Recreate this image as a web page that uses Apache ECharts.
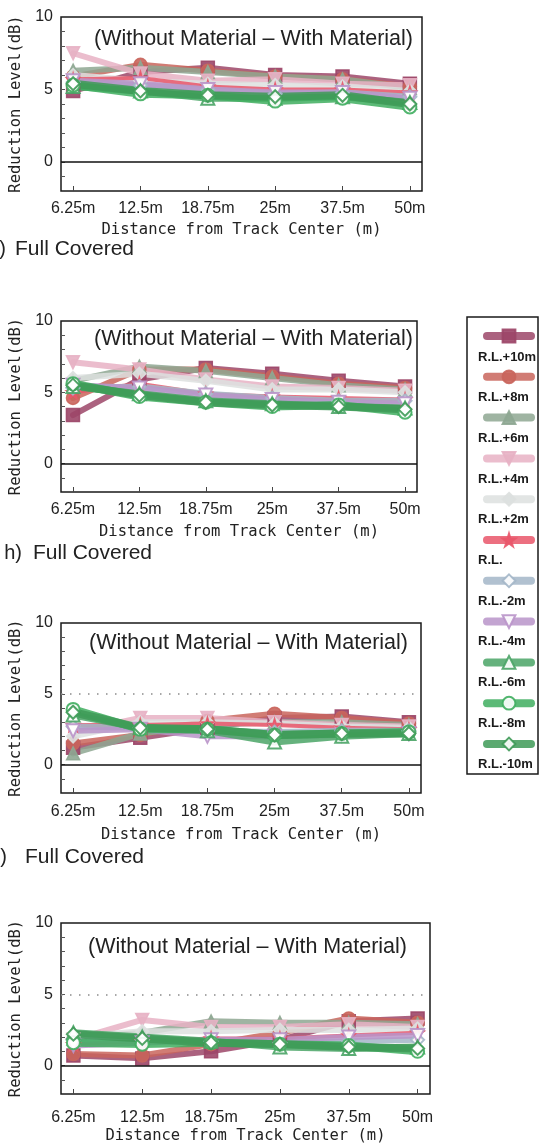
<!DOCTYPE html>
<html>
<head>
<meta charset="utf-8">
<title>Reduction Level</title>
<script src="https://cdn.jsdelivr.net/npm/echarts@6/dist/echarts.min.js"></script>
<style>
  html, body { margin: 0; padding: 0; background: #fff; }
  #chart { width: 541px; height: 1146px; }
</style>
</head>
<body>
<div id="chart"></div>
<script>
const distances = ['6.25m', '12.5m', '18.75m', '25m', '37.5m', '50m'];
const levels = ['R.L.+10m', 'R.L.+8m', 'R.L.+6m', 'R.L.+4m', 'R.L.+2m', 'R.L.',
  'R.L.-2m', 'R.L.-4m', 'R.L.-6m', 'R.L.-8m', 'R.L.-10m'];
const yTicks = [0, 5, 10];

// one row per level, one value per distance
const dataG = [
  [4.9, 6.2, 6.5, 6.0, 5.9, 5.4],
  [5.9, 6.7, 6.3, 5.9, 5.7, 5.2],
  [6.3, 6.5, 6.2, 5.9, 5.7, 5.1],
  [7.5, 6.1, 5.6, 5.7, 5.4, 5.3],
  [6.0, 5.6, 5.4, 5.3, 5.2, 4.9],
  [5.7, 5.8, 5.2, 5.0, 5.0, 4.8],
  [5.5, 5.3, 5.0, 4.7, 4.8, 4.5],
  [5.6, 5.4, 5.0, 4.8, 4.8, 4.4],
  [5.2, 4.9, 4.4, 4.4, 4.5, 4.1],
  [5.3, 4.7, 4.6, 4.2, 4.4, 3.8],
  [5.4, 4.9, 4.6, 4.5, 4.6, 4.0]
];
const dataH = [
  [3.4, 5.9, 6.7, 6.3, 5.8, 5.4],
  [4.6, 6.6, 6.6, 6.1, 5.6, 5.3],
  [5.8, 6.8, 6.5, 6.0, 5.5, 5.2],
  [7.1, 6.6, 5.9, 5.4, 5.3, 5.1],
  [6.0, 6.3, 5.8, 5.2, 5.2, 5.0],
  [5.0, 5.6, 4.9, 4.7, 4.6, 4.5],
  [5.3, 5.4, 4.9, 4.6, 4.4, 4.4],
  [5.5, 5.3, 4.8, 4.5, 4.3, 4.2],
  [5.4, 4.9, 4.4, 4.2, 4.0, 3.9],
  [5.6, 4.7, 4.3, 4.0, 4.1, 3.6],
  [5.5, 4.8, 4.3, 4.1, 4.0, 3.8]
];
const dataI = [
  [1.2, 1.9, 2.6, 3.3, 3.4, 3.0],
  [1.5, 2.1, 3.1, 3.6, 3.3, 2.9],
  [0.8, 2.2, 2.8, 3.0, 3.0, 2.8],
  [2.3, 3.3, 3.3, 3.0, 2.8, 2.7],
  [2.0, 3.0, 3.0, 2.9, 2.7, 2.6],
  [2.8, 2.8, 2.9, 2.8, 2.6, 2.5],
  [2.7, 2.6, 2.4, 2.3, 2.4, 2.4],
  [2.4, 2.5, 2.0, 2.0, 2.1, 2.2],
  [3.5, 2.6, 2.4, 1.6, 2.0, 2.2],
  [3.9, 2.5, 2.5, 2.1, 2.2, 2.3],
  [3.7, 2.6, 2.5, 2.1, 2.2, 2.2]
];
const dataJ = [
  [0.7, 0.5, 1.0, 1.8, 3.1, 3.3],
  [0.8, 0.7, 1.5, 2.3, 3.3, 3.0],
  [1.9, 2.3, 3.1, 3.0, 3.0, 2.9],
  [1.8, 3.2, 2.7, 2.7, 2.9, 2.7],
  [2.0, 2.4, 2.4, 2.5, 2.5, 2.6],
  [1.5, 1.7, 1.9, 1.9, 2.1, 2.3],
  [1.8, 1.8, 1.7, 1.6, 1.7, 1.8],
  [1.4, 1.6, 1.8, 1.8, 2.0, 2.1],
  [2.3, 2.0, 1.7, 1.3, 1.2, 1.3],
  [1.6, 1.5, 1.6, 1.5, 1.4, 1.0],
  [2.2, 1.9, 1.6, 1.5, 1.3, 1.2]
];

const star = 'path://M50,0 L61,35 L98,35 L68,57 L79,91 L50,70 L21,91 L32,57 L2,35 L39,35 Z';
const looks = [
  { color: '#9c4668', symbol: 'rect', rot: 0, w: 6 },
  { color: '#c9655c', symbol: 'circle', rot: 0, w: 6 },
  { color: '#8ea792', symbol: 'triangle', rot: 0, w: 6 },
  { color: '#e7b1c4', symbol: 'triangle', rot: 180, w: 6 },
  { color: '#dde0df', symbol: 'diamond', rot: 0, w: 6 },
  { color: '#e9566a', symbol: star, rot: 0, w: 4 },
  { color: '#a3b6c8', symbol: 'emptyDiamond', rot: 0, w: 6 },
  { color: '#b994c9', symbol: 'emptyTriangle', rot: 180, w: 6 },
  { color: '#4aa466', symbol: 'emptyTriangle', rot: 0, w: 7 },
  { color: '#3fae5f', symbol: 'emptyCircle', rot: 0, w: 8 },
  { color: '#3e9a57', symbol: 'emptyDiamond', rot: 0, w: 8 }
];

const panels = [
  { data: dataG, top: 17, height: 174, width: 361, lab: 10, gap: 31, dots: false,
    tag: 'g)', tagX: 6, fullX: 15, fullY: 249, titleX: 413, titleY: 39 },
  { data: dataH, top: 321, height: 171, width: 356, lab: 10, gap: 32, dots: false,
    tag: 'h)', tagX: 22, fullX: 33, fullY: 553, titleX: 413, titleY: 339 },
  { data: dataI, top: 623, height: 170, width: 360, lab: 11, gap: 34, dots: true,
    tag: 'i)', tagX: 7, fullX: 25, fullY: 857, titleX: 408, titleY: 643 },
  { data: dataJ, top: 923, height: 171, width: 369, lab: 16, gap: 34, dots: true,
    tag: null, titleX: 407, titleY: 947 }
];

const mono = 'DejaVu Sans Mono';
const sans = 'Liberation Sans, Arial, sans-serif';

const grid = [], xAxis = [], yAxis = [], series = [], graphic = [];

panels.forEach((p, gi) => {
  grid.push({
    left: 61, top: p.top, width: p.width, height: p.height,
    show: true, borderColor: '#1a1a1a', borderWidth: 1.5, backgroundColor: 'transparent'
  });
  xAxis.push({
    type: 'value', gridIndex: gi, min: -0.18, max: 5.18,
    axisLine: { show: false, onZero: false },
    splitLine: { show: false },
    axisTick: { show: true, inside: true, length: 5, customValues: [0, 1, 2, 3, 4, 5],
      lineStyle: { color: '#444', width: 1 } },
    axisLabel: { customValues: [0, 1, 2, 3, 4, 5], margin: p.lab, fontSize: 16,
      fontFamily: sans, color: '#222', formatter: (v) => distances[Math.round(v)] },
    name: 'Distance from Track Center (m)', nameLocation: 'middle', nameGap: p.gap,
    nameTextStyle: { fontFamily: mono, fontSize: 15.5, color: '#222' }
  });
  yAxis.push({
    type: 'value', gridIndex: gi, min: -2, max: 10,
    axisLine: { show: false, onZero: false },
    splitLine: { show: false },
    axisTick: { show: true, inside: true, length: 4, customValues: [-1, 0, 1, 2, 3, 4, 5, 6, 7, 8, 9],
      lineStyle: { color: '#555', width: 1 } },
    axisLabel: { customValues: yTicks, margin: 8, fontSize: 16, fontFamily: sans, color: '#222' },
    name: 'Reduction Level(dB)', nameLocation: 'middle', nameGap: 31,
    nameTextStyle: { fontFamily: mono, fontSize: 15.5, color: '#222' }
  });

  const refLines = [{ yAxis: 0, lineStyle: { color: '#111', width: 1.6, type: 'solid' } }];
  if (p.dots) {
    refLines.push({ yAxis: 5, lineStyle: { color: '#8a8a8a', width: 1.6, type: [1.5, 7.5] } });
  }
  series.push({
    type: 'line', xAxisIndex: gi, yAxisIndex: gi, data: [], silent: true, z: 1,
    markLine: { silent: true, symbol: 'none', label: { show: false }, data: refLines,
      animation: false }
  });

  p.data.forEach((vals, si) => {
    const lk = looks[si];
    series.push({
      name: levels[si], type: 'line', xAxisIndex: gi, yAxisIndex: gi, z: 2,
      data: vals.map((v, i) => [i, v]),
      symbol: lk.symbol, symbolRotate: lk.rot, symbolSize: 13,
      showAllSymbol: true,
      lineStyle: { color: lk.color, width: lk.w, opacity: 0.85, cap: 'round', join: 'round' },
      itemStyle: { color: lk.color, borderColor: lk.color, borderWidth: 1.5, opacity: 0.9 },
      emphasis: { disabled: true }
    });
  });

  graphic.push({
    type: 'text', x: p.titleX, y: p.titleY,
    style: { text: '(Without Material – With Material)', fontFamily: sans, fontSize: 21.5,
      fill: '#222', align: 'right', verticalAlign: 'middle' }
  });
  if (p.tag) {
    graphic.push({
      type: 'text', x: p.tagX, y: p.fullY,
      style: { text: p.tag, fontFamily: sans, fontSize: 20, fill: '#222',
        align: 'right', verticalAlign: 'middle' }
    });
    graphic.push({
      type: 'text', x: p.fullX, y: p.fullY,
      style: { text: 'Full Covered', fontFamily: sans, fontSize: 21, fill: '#222',
        align: 'left', verticalAlign: 'middle' }
    });
  }
});

// legend frame and labels (icons come from the echarts legend)
graphic.push({
  type: 'rect', shape: { x: 467, y: 317, width: 71, height: 457 },
  style: { fill: 'none', stroke: '#1a1a1a', lineWidth: 1.5 }
});
levels.forEach((name, i) => {
  graphic.push({
    type: 'text', x: 478, y: 357 + i * 40.7,
    style: { text: name, fontFamily: sans, fontSize: 13, fontWeight: 'bold', fill: '#1a1a1a',
      align: 'left', verticalAlign: 'middle' }
  });
});

const myChart = echarts.init(document.getElementById('chart'), null, { renderer: 'canvas' });
myChart.setOption({
  animation: false,
  backgroundColor: '#fff',
  grid, xAxis, yAxis, series, graphic,
  legend: {
    data: levels, orient: 'vertical', left: 478, top: 323, padding: 5,
    itemWidth: 44, itemHeight: 16, itemGap: 25.4, selectedMode: false,
    formatter: () => '', textStyle: { fontSize: 6 },
    lineStyle: { width: 8, cap: 'round' }
  }
});
</script>
</body>
</html>
